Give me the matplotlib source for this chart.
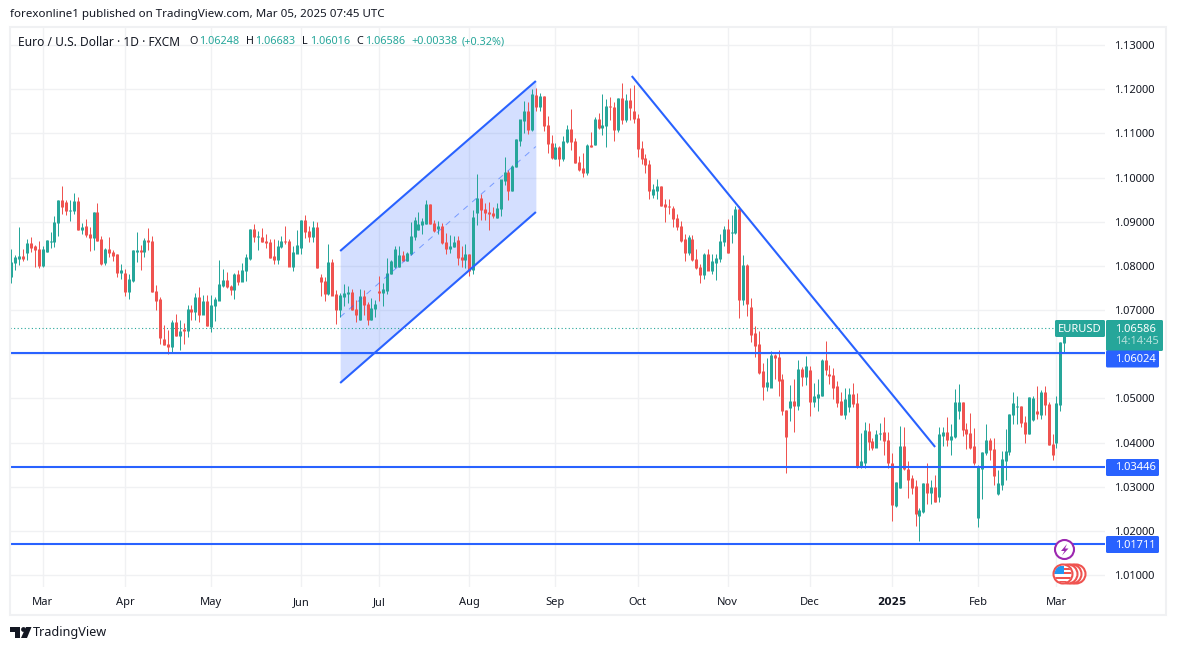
import matplotlib
matplotlib.use('Agg')
import matplotlib.pyplot as plt
import numpy as np
from matplotlib.patches import Rectangle, Circle, Polygon, FancyBboxPatch
from matplotlib.transforms import Affine2D

# daily candles, in pips above 1.0000
opens = [775, 807, 817, 822, 829, 851, 844, 838, 801, 832,
         854, 854, 897, 949, 943, 924, 924, 946, 881, 890,
         872, 863, 921, 860, 806, 838, 831, 826, 784, 783,
         741, 767, 833, 835, 832, 858, 856, 743, 724, 634,
         623, 616, 672, 641, 656, 652, 702, 696, 729, 690,
         720, 663, 709, 722, 756, 767, 754, 745, 781, 765,
         789, 817, 883, 866, 865, 855, 854, 822, 813, 844,
         856, 856, 799, 828, 842, 903, 878, 865, 888, 774,
         765, 738, 808, 735, 700, 731, 738, 741, 702, 678,
         732, 714, 678, 703, 743, 739, 743, 782, 798, 798,
         824, 811, 827, 866, 881, 893, 896, 940, 897, 884,
         890, 854, 838, 843, 857, 820, 814, 827, 791, 920,
         954, 928, 922, 920, 909, 929, 992, 1013, 970, 1024,
         1083, 1128, 1151, 1108, 1187, 1160, 1185, 1119, 1078, 1042,
         1069, 1042, 1081, 1110, 1083, 1035, 1020, 1011, 1074, 1074,
         1133, 1112, 1117, 1162, 1158, 1108, 1180, 1131, 1176, 1151,
         1135, 1067, 1044, 1030, 960, 971, 980, 940, 935, 931,
         908, 890, 860, 829, 860, 815, 797, 779, 826, 790,
         808, 815, 854, 883, 874, 874, 928, 724, 801, 706,
         647, 622, 561, 527, 525, 598, 593, 543, 473, 478,
         493, 484, 566, 550, 564, 493, 502, 507, 586, 555,
         552, 527, 493, 464, 482, 509, 489, 348, 355, 426,
         403, 389, 419, 423, 406, 354, 258, 298, 391, 340,
         318, 300, 234, 243, 307, 286, 298, 277, 415, 424,
         406, 413, 472, 492, 431, 422, 391, 230, 341, 377,
         404, 384, 284, 304, 359, 379, 463, 481, 483, 447,
         420, 452, 470, 463, 513, 486, 395, 400, 486, 625]
highs = [838, 824, 888, 839, 860, 865, 847, 856, 844, 859,
         876, 914, 949, 980, 949, 949, 964, 955, 898, 905,
         888, 921, 942, 867, 841, 865, 835, 826, 804, 793,
         781, 835, 876, 847, 863, 885, 867, 756, 729, 665,
         654, 678, 690, 677, 671, 711, 712, 739, 752, 733,
         735, 733, 730, 813, 792, 787, 756, 784, 790, 806,
         826, 884, 894, 878, 885, 873, 860, 860, 858, 867,
         890, 860, 844, 882, 903, 915, 890, 901, 900, 781,
         774, 850, 815, 745, 739, 760, 754, 747, 723, 747,
         746, 719, 727, 723, 777, 761, 818, 813, 844, 844,
         833, 832, 900, 911, 922, 909, 949, 940, 904, 902,
         896, 874, 870, 868, 868, 844, 850, 827, 927, 1008,
         963, 942, 945, 933, 942, 995, 1047, 1017, 1029, 1088,
         1131, 1174, 1171, 1201, 1202, 1192, 1185, 1140, 1097, 1078,
         1072, 1094, 1119, 1155, 1090, 1049, 1056, 1076, 1103, 1138,
         1146, 1189, 1178, 1183, 1172, 1180, 1214, 1189, 1203, 1210,
         1144, 1083, 1053, 1039, 986, 996, 980, 952, 952, 935,
         917, 901, 873, 869, 869, 838, 805, 829, 838, 826,
         826, 872, 890, 906, 915, 935, 935, 824, 804, 727,
         663, 652, 581, 592, 607, 600, 609, 555, 473, 530,
         543, 586, 570, 595, 573, 534, 543, 589, 629, 575,
         568, 539, 514, 523, 523, 534, 512, 421, 446, 444,
         411, 428, 444, 457, 424, 376, 310, 438, 435, 358,
         327, 316, 252, 309, 354, 316, 327, 435, 435, 458,
         441, 521, 533, 492, 444, 467, 433, 350, 379, 443,
         410, 410, 338, 380, 431, 465, 515, 505, 483, 459,
         502, 505, 529, 520, 529, 492, 420, 505, 627, 668]
lows = [761, 790, 801, 811, 813, 832, 797, 795, 797, 832,
        841, 842, 868, 917, 915, 902, 918, 881, 872, 866,
        834, 836, 857, 801, 801, 819, 812, 775, 771, 732,
        725, 764, 809, 790, 820, 835, 741, 700, 623, 621,
        601, 603, 641, 609, 623, 639, 677, 677, 673, 690,
        664, 650, 675, 722, 752, 749, 733, 724, 756, 765,
        765, 814, 854, 835, 854, 841, 817, 804, 804, 840,
        849, 799, 789, 828, 827, 862, 855, 855, 795, 731,
        720, 735, 733, 668, 684, 708, 715, 700, 672, 678,
        689, 666, 678, 685, 721, 709, 737, 782, 795, 798,
        810, 811, 825, 859, 881, 872, 895, 895, 877, 872,
        850, 827, 829, 843, 802, 798, 795, 777, 782, 893,
        904, 904, 881, 908, 909, 913, 983, 949, 970, 1024,
        1072, 1100, 1099, 1106, 1151, 1151, 1106, 1055, 1042, 1042,
        1026, 1038, 1078, 1063, 1033, 1015, 1001, 1006, 1069, 1074,
        1110, 1097, 1069, 1131, 1083, 1103, 1122, 1126, 1131, 1123,
        1047, 1031, 1011, 952, 954, 952, 935, 900, 918, 887,
        881, 854, 811, 824, 811, 792, 761, 770, 790, 781,
        768, 808, 845, 829, 851, 872, 681, 711, 686, 627,
        593, 555, 496, 516, 525, 543, 505, 462, 330, 448,
        423, 473, 527, 530, 459, 480, 471, 505, 552, 532,
        498, 480, 462, 453, 468, 480, 342, 342, 342, 382,
        382, 389, 405, 371, 343, 223, 255, 296, 338, 274,
        283, 212, 178, 240, 261, 261, 266, 266, 393, 393,
        372, 411, 454, 415, 386, 386, 350, 209, 273, 372,
        361, 304, 282, 293, 316, 372, 443, 443, 436, 400,
        420, 449, 454, 454, 463, 395, 361, 388, 472, 602]
closes = [808, 819, 822, 815, 851, 842, 836, 801, 837, 857,
          856, 899, 949, 933, 924, 926, 946, 881, 888, 870,
          863, 921, 858, 804, 838, 829, 824, 784, 790, 741,
          770, 835, 835, 833, 858, 854, 741, 722, 637, 621,
          616, 672, 641, 652, 652, 702, 695, 729, 689, 720,
          664, 711, 724, 758, 767, 752, 745, 781, 765, 790,
          819, 883, 865, 868, 854, 852, 819, 813, 844, 856,
          854, 799, 831, 847, 903, 877, 865, 888, 795, 763,
          738, 808, 733, 700, 734, 738, 740, 700, 689, 732,
          712, 678, 705, 712, 739, 746, 784, 811, 838, 825,
          811, 829, 868, 904, 895, 900, 940, 896, 879, 890,
          852, 838, 845, 854, 818, 814, 827, 788, 909, 954,
          927, 920, 918, 913, 931, 995, 1013, 970, 1026, 1087,
          1131, 1151, 1109, 1189, 1160, 1185, 1117, 1076, 1044, 1069,
          1042, 1083, 1110, 1081, 1033, 1017, 1011, 1074, 1069, 1133,
          1112, 1119, 1162, 1160, 1108, 1180, 1131, 1176, 1158, 1133,
          1065, 1042, 1029, 970, 973, 980, 937, 934, 933, 906,
          888, 858, 829, 865, 813, 795, 779, 826, 790, 811,
          817, 856, 883, 829, 876, 928, 724, 801, 715, 645,
          620, 559, 527, 536, 598, 591, 541, 471, 412, 493,
          484, 566, 550, 573, 493, 505, 509, 586, 564, 552,
          525, 491, 464, 498, 509, 487, 348, 357, 428, 401,
          389, 419, 421, 403, 354, 259, 309, 391, 340, 316,
          298, 239, 246, 307, 286, 298, 266, 418, 424, 406,
          415, 492, 492, 429, 420, 388, 354, 347, 379, 404,
          384, 325, 307, 361, 381, 465, 488, 483, 445, 420,
          502, 501, 465, 513, 486, 395, 372, 488, 627, 659]

month_idx = [8, 29, 51, 74, 94, 117, 139, 160, 183, 204, 225, 247, 267]
month_labels = ['Mar', 'Apr', 'May', 'Jun', 'Jul', 'Aug', 'Sep', 'Oct', 'Nov',
                'Dec', '2025', 'Feb', 'Mar']
price_ticks = [1.01, 1.02, 1.03, 1.04, 1.05, 1.06, 1.07, 1.08, 1.09, 1.10,
               1.11, 1.12, 1.13]

# drawings: (candle index, price)
channel_top = [(84, 1.08336), (134, 1.12185)]
channel_bottom = [(84, 1.05348), (134, 1.09219)]
trend_line = [(158.5, 1.12298), (236, 1.03899)]
support_levels = [1.06024, 1.03446, 1.01711]
last_price = 1.06586

UP = '#26a69a'
DOWN = '#ef5350'
BLUE = '#2962ff'
GRID = '#f0f1f3'
TEXT = '#131722'

plt.rcParams['font.family'] = ['Noto Sans', 'DejaVu Sans']

fig = plt.figure(figsize=(11.77, 6.5), dpi=100, facecolor='white')
ax = fig.add_axes([10 / 1177, 63 / 650, 1095 / 1177, 560 / 650])

# helper transform so the chrome can be placed in screen pixels
px = Affine2D().scale(1 / 1177, -1 / 650).translate(0, 1) + fig.transFigure

o = 1 + np.array(opens) / 10000
h = 1 + np.array(highs) / 10000
l = 1 + np.array(lows) / 10000
c = 1 + np.array(closes) / 10000
x = np.arange(len(o))
colors = [UP if b >= a else DOWN for a, b in zip(o, c)]

ax.set_xlim(-0.35, 279.4)
ax.set_ylim(1.00729, 1.13408)

# channel behind the candles
top_y = [p[1] for p in channel_top]
bot_y = [p[1] for p in channel_bottom]
chan_x = [p[0] for p in channel_top]
ax.fill_between(chan_x, bot_y, top_y, color=BLUE, alpha=0.2, lw=0, zorder=1)

wicks = ax.vlines(x, l, h, colors=colors, lw=0.72, zorder=3)
wicks.set_snap(True)
# bodies 3px wide, keep doji candles visible
bodies = ax.vlines(x, np.minimum(o, c) - 0.00006, np.maximum(o, c) + 0.00006,
                   colors=colors, lw=2.16, zorder=4)
bodies.set_snap(True)
bodies.set_capstyle('butt')

ax.plot(chan_x, top_y, color=BLUE, lw=1.5, zorder=5, solid_capstyle='butt')
ax.plot(chan_x, bot_y, color=BLUE, lw=1.5, zorder=5, solid_capstyle='butt')
ax.plot(chan_x, (np.array(top_y) + np.array(bot_y)) / 2, color=BLUE, lw=0.7,
        alpha=0.55, dashes=(6, 6), zorder=5)
ax.plot([p[0] for p in trend_line], [p[1] for p in trend_line], color=BLUE,
        lw=1.5, zorder=5, solid_capstyle='butt')
for level in support_levels:
    ax.axhline(level, color=BLUE, lw=1.5, zorder=5)
ax.plot([-0.35, 267.5], [last_price, last_price], color=UP, lw=0.8,
        dashes=(1, 2.2), zorder=2)

ax.set_xticks(month_idx)
ax.set_xticklabels(month_labels)
ax.set_yticks(price_ticks)
# 1.06000 sits under the level label, the platform hides it
ax.set_yticklabels(['' if p == 1.06 else '%.5f' % p for p in price_ticks])
ax.yaxis.tick_right()
ax.tick_params(axis='both', length=0, labelsize=8, colors=TEXT)
ax.tick_params(axis='y', pad=6.5)
ax.tick_params(axis='x', pad=7)
for label in ax.get_xticklabels():
    if label.get_text() == '2025':
        label.set_fontfamily('DejaVu Sans')
        label.set_fontweight('bold')
        label.set_fontsize(7.6)
ax.grid(True, color=GRID, lw=1)
ax.set_axisbelow(True)
for spine in ax.spines.values():
    spine.set_visible(False)


def label_box(x0, y0, x1, y1, color):
    fig.add_artist(FancyBboxPatch((x0 + 1, y0 + 1), x1 - x0 - 2, y1 - y0 - 2,
                                  boxstyle='round,pad=1,rounding_size=1.5',
                                  fc=color, ec='none', transform=px, zorder=6))


def screen_text(x0, y0, s, color=TEXT, size=8, ha='left', **kw):
    fig.text(x0, y0, s, color=color, size=size, ha=ha, va='center',
             transform=px, zorder=7, **kw)


# outer frame
fig.add_artist(Rectangle((10, 27), 1156, 588, fc='none', ec=GRID, lw=1.5,
                         transform=px, zorder=5))

# right side labels
label_box(1055, 320, 1105, 337, UP)
screen_text(1080, 329, 'EURUSD', color='white', ha='center')
label_box(1106, 320, 1163, 351, UP)
screen_text(1115, 329, '1.06586', color='white')
screen_text(1115, 342, '14:14:45', color='#b4e0db')
for y_mid, level in zip([359, 467.5, 544.5], support_levels):
    label_box(1106, y_mid - 8.5, 1159, y_mid + 8.5, BLUE)
    screen_text(1115, y_mid + 0.5, '%.5f' % level, color='white')

# header
screen_text(10, 15, 'forexonline1 published on TradingView.com, Mar 05, 2025 07:45 UTC', size=8.3)
screen_text(18, 42, 'Euro / U.S. Dollar · 1D · FXCM', size=8.6)
header_bits = [(189, 'O', TEXT), (199, '1.06248', UP), (246, 'H', TEXT),
               (255, '1.06683', UP), (302, 'L', TEXT), (310, '1.06016', UP),
               (356, 'C', TEXT), (365, '1.06586', UP),
               (411, '+0.00338', UP), (462, '(+0.32%)', UP)]
for x0, s, col in header_bits:
    screen_text(x0, 42, s, color=col, size=7.8)

# event icons
fig.add_artist(Circle((1064.5, 549.5), 9.5, fc='white', ec='#9c27b0', lw=1.5,
                      transform=px, zorder=6))
fig.add_artist(Polygon([(1067, 544), (1061, 551), (1064.5, 551), (1062, 555.5),
                        (1068.5, 548.5), (1065, 548.5)], fc='#9c27b0', ec='none',
                       transform=px, zorder=7))
for cx in [1076, 1072, 1068]:
    fig.add_artist(Circle((cx, 574), 9.5, fc='white', ec=DOWN, lw=1.5,
                          transform=px, zorder=6))
flag_clip = Circle((1063, 574), 8.5, transform=px)
fig.add_artist(Circle((1063, 574), 9.5, fc='white', ec=DOWN, lw=1.5,
                      transform=px, zorder=6))
for y0 in [567.5, 572, 576.5, 581]:
    stripe = Rectangle((1054, y0), 18, 2.2, fc=DOWN, ec='none', transform=px,
                       zorder=7)
    fig.add_artist(stripe)
    stripe.set_clip_path(flag_clip)
canton = Rectangle((1054, 566), 10, 8, fc='#2196f3', ec='none', transform=px,
                   zorder=8)
fig.add_artist(canton)
canton.set_clip_path(flag_clip)

# footer logo
fig.add_artist(Polygon([(10, 627), (20, 627), (20, 638), (15, 638), (15, 632),
                        (10, 632)], fc=TEXT, ec='none', transform=px))
fig.add_artist(Circle((23.5, 629.5), 2.4, fc=TEXT, ec='none', transform=px))
fig.add_artist(Polygon([(26, 627), (31.5, 627), (27, 638), (21, 638)], fc=TEXT,
                       ec='none', transform=px))
screen_text(33, 632.5, 'TradingView', size=9.1)

fig.savefig('out.png', dpi=100, facecolor='white')
